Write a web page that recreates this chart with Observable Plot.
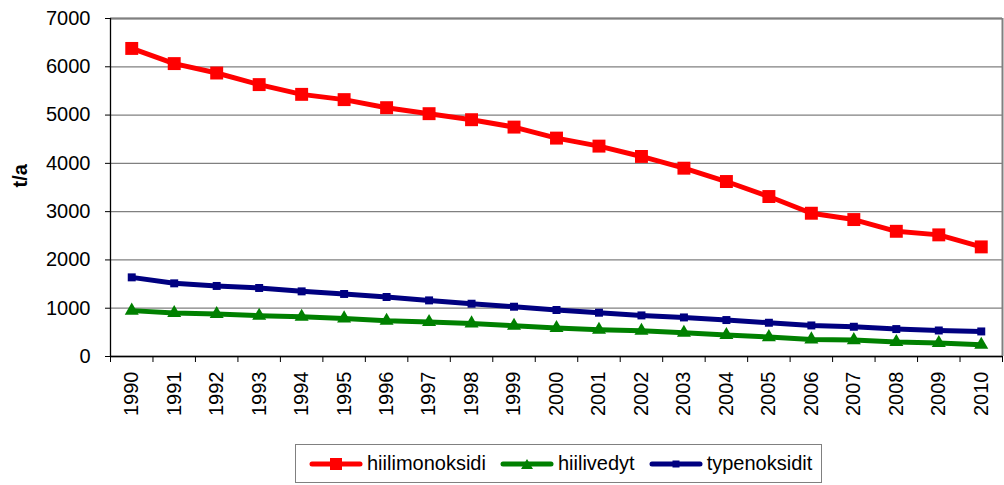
<!DOCTYPE html>
<html><head><meta charset="utf-8">
<script src="https://cdn.jsdelivr.net/npm/d3@7"></script>
<script src="https://cdn.jsdelivr.net/npm/@observablehq/plot@0.6"></script>
<style>
body{margin:0;background:#fff;font-family:"Liberation Sans",Arial,sans-serif;}
#wrap{position:relative;width:1004px;height:485px;overflow:hidden;}
#legend{position:absolute;left:295px;top:444px;width:527px;height:39px;border:1px solid #808080;box-sizing:border-box;display:flex;align-items:center;padding-left:13px;font-size:20px;color:#000;}
.item{display:flex;align-items:center;margin-right:14px;}
.item svg{margin-right:4px;}
</style>
</head><body>
<div id="wrap"><div id="chart"></div><div id="legend"></div></div>
<script>
const years = [1990,1991,1992,1993,1994,1995,1996,1997,1998,1999,2000,2001,2002,2003,2004,2005,2006,2007,2008,2009,2010];
const hiilimonoksidi = [6380,6066,5871,5631,5429,5320,5153,5029,4904,4751,4523,4357,4143,3900,3624,3313,2967,2836,2593,2519,2270];
const hiilivedyt = [950,900,880,844,824,788,741,714,685,637,589,554,533,492,444,402,353,340,299,278,243];
const typenoksidit = [1639,1515,1461,1419,1349,1295,1232,1162,1093,1031,963,907,851,809,755,699,643,616,568,539,519];
const yTicks = [0,1000,2000,3000,4000,5000,6000,7000];
const seriesNames = ["hiilimonoksidi","hiilivedyt","typenoksidit"];
const seriesColors = ["#FF0000","#008000","#000080"];
const seriesSymbols = ["square","triangle","square"];
const seriesR = [7.3,5.2,4.5];
const seriesValues = [hiilimonoksidi, hiilivedyt, typenoksidit];
const yLabel = "t/a";

const bounds = [years[0]-0.5, ...years.map(y=>y+0.5)];
const rows = seriesNames.map((name,s)=>years.map((y,i)=>({year:y, series:name, value:seriesValues[s][i]})));

const marks = [
  Plot.gridY(yTicks,{stroke:"#808080",strokeOpacity:1,strokeWidth:1.3}),
  Plot.ruleX([bounds[bounds.length-1]],{stroke:"#808080",strokeWidth:2}),
  Plot.ruleY([yTicks[yTicks.length-1]],{stroke:"#808080",strokeWidth:2}),
  Plot.ruleX([bounds[0]],{stroke:"#000",strokeWidth:1.3}),
  Plot.ruleY([0],{stroke:"#000",strokeWidth:1.3}),
  Plot.axisY(yTicks,{tickSize:5,tickPadding:15,label:null,fontSize:20,stroke:"#000",tickFormat:d=>String(d)}),
  Plot.axisX(bounds,{tickSize:6,tickFormat:()=>"",label:null,stroke:"#000"}),
  Plot.axisX(years,{tickSize:0,tickPadding:15,tickRotate:-90,tickFormat:d=>String(d),label:null,fontSize:20}),
  Plot.text([yLabel],{frameAnchor:"left",dx:-90,rotate:-90,fontWeight:"bold",fontSize:20,fill:"#000"})
];
rows.forEach((r,s)=>{
  marks.push(Plot.line(r,{x:"year",y:"value",stroke:seriesColors[s],strokeWidth:5}));
  marks.push(Plot.dot(r,{x:"year",y:"value",symbol:seriesSymbols[s],r:seriesR[s],fill:seriesColors[s],stroke:"none"}));
});

const chart = Plot.plot({
  width:1004, height:485,
  marginLeft:110, marginRight:2, marginTop:18, marginBottom:129,
  style:{fontFamily:"Liberation Sans, Arial, sans-serif",fontSize:"20px",color:"#000",background:"#fff"},
  x:{type:"linear",domain:[bounds[0],bounds[bounds.length-1]]},
  y:{domain:[0,yTicks[yTicks.length-1]]},
  marks
});
document.getElementById("chart").appendChild(chart);

const legend = document.getElementById("legend");
seriesNames.forEach((name,s)=>{
  const item = document.createElement("div");
  item.className="item";
  const c = seriesColors[s];
  let marker;
  if (seriesSymbols[s]==="triangle") marker = `<polygon points="27,3 33,13 21,13" fill="${c}"/>`;
  else { const w = s===0?12:7; marker = `<rect x="${27-w/2}" y="${8-w/2}" width="${w}" height="${w}" fill="${c}"/>`; }
  item.innerHTML = `<svg width="54" height="16"><line x1="3" y1="8" x2="51" y2="8" stroke="${c}" stroke-width="5" stroke-linecap="round"/>${marker}</svg><span>${name}</span>`;
  legend.appendChild(item);
});
</script>
</body></html>
